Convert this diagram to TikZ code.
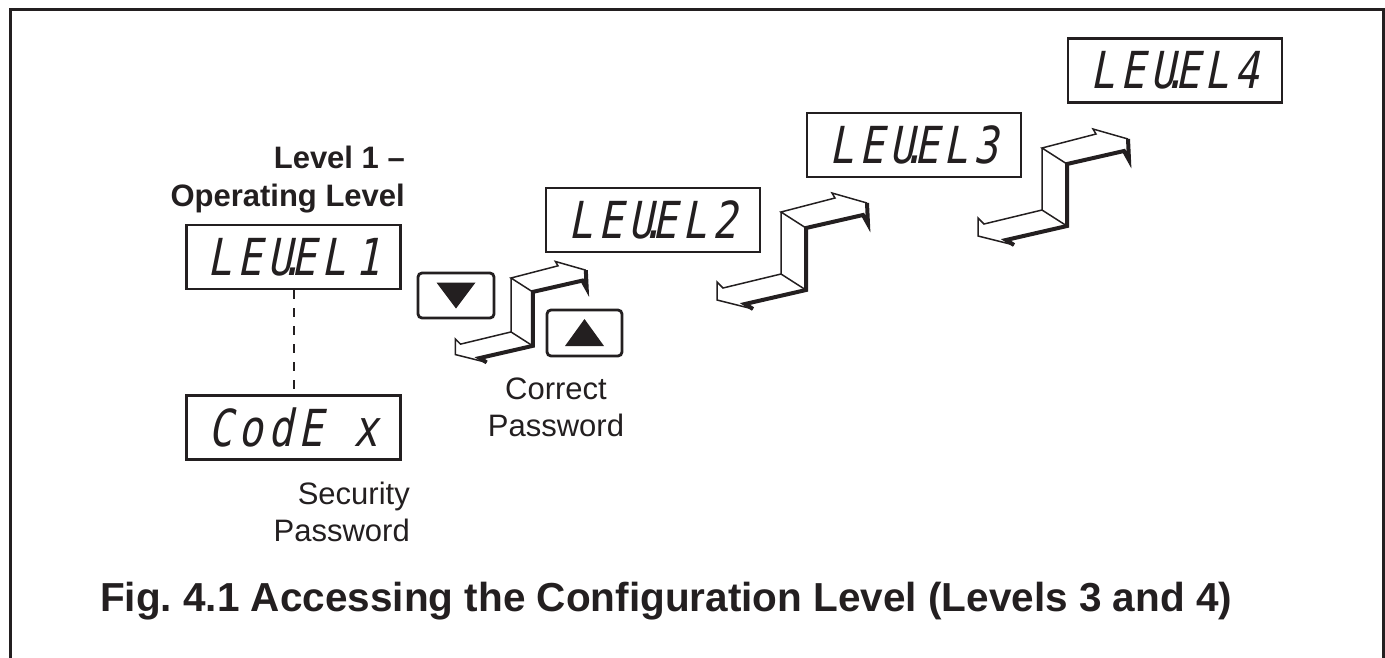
\documentclass[tikz,border=0pt]{standalone}
\usepackage{fontspec}
\setmainfont{Liberation Sans}
% slanted, condensed monospace face standing in for the seven-segment readout
\newfontfamily\segfont{DejaVu Sans Mono}[FakeSlant=0.2,FakeStretch=0.8,LetterSpace=10.6]
\newcommand{\segdot}{\makebox[0pt][c]{.}}
\definecolor{ink}{HTML}{231F20}
\tikzset{
  frameline/.style={draw=ink, line width=3pt},
  readout/.style={draw=ink, line width=2.2pt, minimum width=214pt, minimum height=64pt,
    inner sep=0pt, text=ink, font=\segfont\fontsize{51}{51}\selectfont},
  keybox/.style={draw=ink, line width=2.8pt, rounded corners=4pt, inner sep=0pt},
  note/.style={text=ink, inner sep=0pt, font=\fontsize{31}{37}\selectfont},
  boldnote/.style={text=ink, inner sep=0pt, font=\bfseries\fontsize{31}{37}\selectfont},
  figcaption/.style={text=ink, inner sep=0pt, font=\frenchspacing\bfseries\fontsize{40.5}{48}\selectfont},
  dashline/.style={draw=ink, line width=2pt, dash pattern=on 9pt off 9pt},
  thinedge/.style={draw=ink, line width=1.5pt, line join=miter},
  thickedge/.style={draw=ink, line width=4pt, line join=miter},
  % Z-shaped double arrow drawn in oblique projection; origin = top-left of the riser
  stairarrow/.pic={
    \fill[white] (0,0) -- (54,-14) -- (51,-19) -- (86,-9) -- (87,12) -- (82,3) -- (25,16)
      -- (25,78) -- (-36,92) -- (-28,97) -- (-64,88) -- (-64,70) -- (-58,76) -- (0,62) -- cycle;
    \draw[thinedge] (25,16) -- (0,0) -- (54,-14) -- (51,-19) -- (86,-9);
    \draw[thinedge] (0,0) -- (0,62) -- (25,78);
    \draw[thinedge] (0,62) -- (-58,76) -- (-64,70) -- (-64,88) -- (-28,97);
    \draw[thickedge] (86,-9) -- (87,12) -- (82,3) -- (25,16) -- (25,78) -- (-36,92) -- (-28,97);
  }
}
\begin{document}
\begin{tikzpicture}[x=1pt,y=-1pt]
\useasboundingbox (0,0) rectangle (1385,657);

% open frame round the figure
\draw[frameline] (10,660) -- (10,9.7) -- (1383.5,9.7) -- (1383.5,660);

% level 1 and its password prompt
\node[boldnote, anchor=base east] (ttl1) at (405,168) {Level 1 –};
\node[boldnote, anchor=base east] (ttl2) at (405,206) {Operating Level};
\node[readout] (lv1) at (293.5,257) {LEU\segdot EL\kern9pt 1};
\node[readout] (code) at (293.5,427.5) {CodE x};
\draw[dashline] (lv1.south) -- (code.north);
\node[note, anchor=base east] (sec1) at (410,504) {Security};
\node[note, anchor=base east] (sec2) at (410,541) {Password};

% push buttons
\node[keybox, minimum width=76pt, minimum height=45pt] (dn) at (456,295.5) {};
\fill[ink] ([shift={(-19.5,-13)}]dn.center) -- ++(39,0) -- ++(-19.5,26) -- cycle;
\node[keybox, minimum width=75pt, minimum height=46pt] (up) at (584.5,333) {};
\fill[ink] ([shift={(-19.5,13)}]up.center) -- ++(39,0) -- ++(-19.5,-27) -- cycle;
\node[note, anchor=base] (cor1) at (556,399) {Correct};
\node[note, anchor=base] (cor2) at (556,436) {Password};

% higher levels
\node[readout] (lv2) at (653,220) {LEU\segdot EL2};
\node[readout] (lv3) at (914,145) {LEU\segdot EL3};
\node[readout] (lv4) at (1175,70.5) {LEU\segdot EL4};

% step arrows between levels
\pic[scale=0.87] at (511,278) {stairarrow};
\pic at (781,212) {stairarrow};
\pic at (1042,148) {stairarrow};

\node[figcaption, anchor=base west] (cap) at (100,611)
  {Fig. 4.1 Accessing the Configuration Level (Levels 3 and 4)};
\end{tikzpicture}
\end{document}
